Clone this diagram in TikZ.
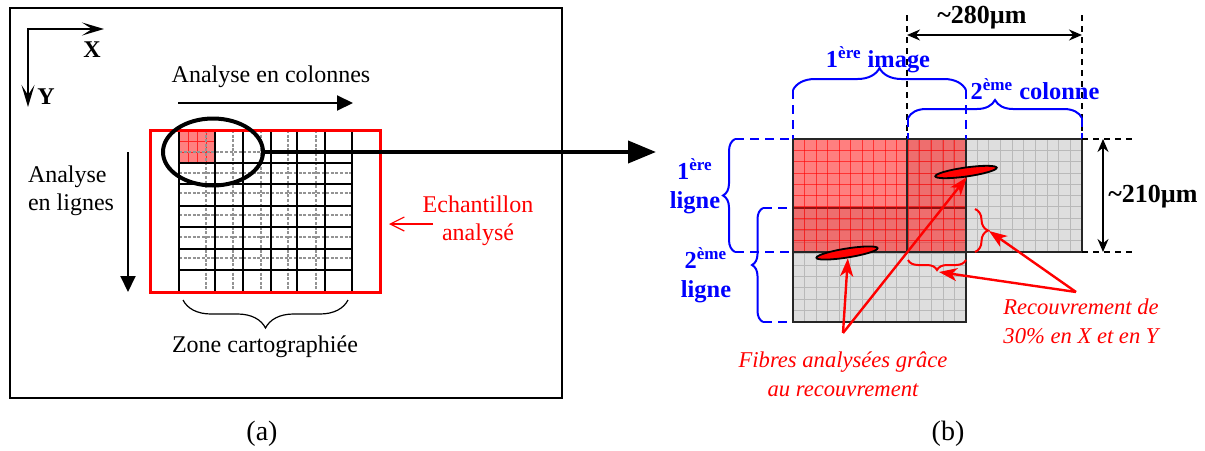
\documentclass[tikz,border=0pt]{standalone}
\usepackage{fontspec}
\setmainfont{Liberation Serif}
\usetikzlibrary{arrows.meta,decorations.pathreplacing,shapes.geometric}
\definecolor{tilegray}{RGB}{222,222,222}
\definecolor{tilegrid}{RGB}{185,185,185}
\begin{document}
\begin{tikzpicture}[x=0.5pt, y=-0.5pt,
  txt/.style={font=\fontsize{12}{14}\selectfont, inner sep=0pt, outer sep=0pt},
  redtxt/.style={txt, text=red},
  noteit/.style={font=\fontsize{11.3}{14.5}\selectfont\itshape, text=red, inner sep=0pt, align=center},
  bluetxt/.style={font=\fontsize{12.2}{14.5}\selectfont\bfseries, text=blue, inner sep=0pt, align=center},
  dimtxt/.style={font=\fontsize{13}{15}\selectfont\bfseries, inner sep=0pt},
  axistxt/.style={font=\fontsize{12}{14}\selectfont\bfseries, inner sep=0pt},
  captxt/.style={font=\fontsize{14}{16}\selectfont, inner sep=0pt},
  mapgrid/.style={black, line width=1pt},
  overlapline/.style={gray!85, line width=0.8pt, dash pattern=on 1.5pt off 0.8pt},
  scanarrow/.style={line width=1pt, -{Triangle[length=8pt,width=7.5pt]}},
  axisarrow/.style={line width=1pt, {Stealth[length=11pt,width=6.5pt,inset=5pt]}-{Stealth[length=11pt,width=6.5pt,inset=5pt]}},
  bluebrace/.style={blue, line width=1pt, decorate, decoration={brace, amplitude=#1}},
  redbrace/.style={red, line width=1pt, decorate, decoration={brace, amplitude=#1}},
  bluedash/.style={blue, line width=1pt, dash pattern=on 4.5pt off 3pt},
  dimdash/.style={black, line width=0.6pt, dash pattern=on 3pt off 2.5pt},
  dimarrow/.style={line width=0.7pt, {Stealth[length=6.5pt,width=5.5pt]}-{Stealth[length=6.5pt,width=5.5pt]}},
  notearrow/.style={red, line width=1.2pt, -{Stealth[length=9pt,width=6.5pt,inset=2.5pt]}},
  tileedge/.style={black!85, line width=0.8pt},
  fibre/.style={ellipse, draw=black, line width=0.9pt, fill=red, minimum width=31pt, minimum height=4.5pt, inner sep=0pt}
]
\useasboundingbox (0,0) rectangle (1205,450);
\fill[white] (0,0) rectangle (1205,450);

% ---------------- (a) sample map ----------------
\draw[line width=1pt] (10,8) rectangle (562,398);

% axes
\coordinate (xend) at (104,29);
\coordinate (orig) at (28,29);
\coordinate (yend) at (28,107);
\draw[axisarrow] (xend) -- (orig) -- (yend);
\node[axistxt] (xlbl) at (92,50) {X};
\node[axistxt] (ylbl) at (46,97) {Y};

% first image of the scan
\fill[red!50] (179,130) rectangle (215,163);
\foreach \x in {188,197,206} \draw[red!85, line width=0.4pt] (\x,130) -- (\x,163);
\foreach \y in {141,152} \draw[red!85, line width=0.4pt] (179,\y) -- (215,\y);

% overlap limits
\foreach \x in {206,233,261,288,316} \draw[overlapline] (\x,130) -- (\x,292);
\foreach \y in {152,173,193,215,237,258} \draw[overlapline] (179,\y) -- (352,\y);

% mapped zone grid
\foreach \x in {179,215,243,271,297,325,352} \draw[mapgrid] (\x,130) -- (\x,292);
\foreach \y in {130,163,184,206,227,249,270,292} \draw[mapgrid] (179,\y) -- (352,\y);

% analysed sample
\draw[red, line width=1.5pt] (150,130) rectangle (380,292);

% zoom ellipse and connector
\node[ellipse, draw, line width=2pt, minimum width=50pt, minimum height=33.5pt, inner sep=0pt] (zoomell) at (213,152) {};
\coordinate (zoomtip) at (656,152);
\draw[line width=2pt, -{Triangle[length=14pt,width=11pt]}] (zoomell.east) -- (zoomtip);

% scan directions
\node[txt] (colstxt) at (271,77) {Analyse en colonnes};
\coordinate (colA) at (178,103);
\coordinate (colB) at (353,103);
\draw[scanarrow] (colA) -- (colB);

\node[txt, align=left, anchor=west] (rowstxt) at (28,191) {Analyse\\en lignes};
\coordinate (rowA) at (128,152);
\coordinate (rowB) at (128,292);
\draw[scanarrow] (rowA) -- (rowB);

% sample label
\node[redtxt, align=center] (samptxt) at (478,221) {Echantillon\\analysé};
\coordinate (sampA) at (433,224);
\coordinate (sampB) at (389,224);
\draw[red, line width=0.6pt, -{Straight Barb[length=7pt,width=7pt]}] (sampA) -- (sampB);

% mapped zone brace
\draw[line width=0.6pt, decorate, decoration={brace, amplitude=14pt}] (348,300) -- (183,300);
\node[txt] (zonetxt) at (265,347) {Zone cartographiée};

\node[captxt] (capa) at (262,434) {(a)};

% ---------------- (b) image overlap ----------------
% second column image
\fill[tilegray] (907,139) rectangle (1082,252);
\foreach \i in {1,...,14} \draw[tilegrid, line width=0.4pt] ({907+\i*175/15},139) -- ++(0,113);
\foreach \j in {1,...,9} \draw[tilegrid, line width=0.4pt] (907,{139+\j*113/10}) -- ++(175,0);
% second row image
\fill[tilegray] (793,208) rectangle (966,322);
\foreach \i in {1,...,14} \draw[tilegrid, line width=0.4pt] ({793+\i*173/15},208) -- ++(0,114);
\foreach \j in {1,...,9} \draw[tilegrid, line width=0.4pt] (793,{208+\j*114/10}) -- ++(173,0);
\draw[tileedge] (907,139) rectangle (1082,252);
\draw[tileedge] (793,208) rectangle (966,322);
% first image
\fill[red, fill opacity=0.5] (793,139) rectangle (966,252);
\foreach \i in {1,...,14} \draw[red, draw opacity=0.6, line width=0.4pt] ({793+\i*173/15},139) -- ++(0,113);
\foreach \j in {1,...,9} \draw[red, draw opacity=0.6, line width=0.4pt] (793,{139+\j*113/10}) -- ++(173,0);
\draw[tileedge] (793,139) rectangle (966,252);
\draw[tileedge] (907,139) -- (907,252);

% fibres seen thanks to the overlap
\node[fibre, rotate=8] (fibA) at (966,172) {};
\node[fibre, rotate=9] (fibB) at (847,253) {};

% overlap braces
\draw[redbrace=6.5pt] (975,209) -- (975,252);
\draw[redbrace=5pt] (966,260) -- (908,260);
\coordinate (tipR) at (989,231);
\coordinate (tipB) at (939,272);

% notes
\node[noteit] (fibtxt) at (843,374) {Fibres analysées grâce\\au recouvrement};
\coordinate (fibapex) at (843,333);
\draw[notearrow] (fibapex) -- (fibB.south);
\draw[notearrow] (fibapex) -- (fibA.south);

\node[noteit] (rectxt) at (1081,321) {Recouvrement de\\30\% en X et en Y};
\coordinate (recapex) at (1076,292);
\draw[notearrow] (recapex) -- (tipR);
\draw[notearrow] (recapex) -- (tipB);

% image / column / row braces
\draw[bluedash] (793,90) -- (793,139);
\draw[bluedash] (966,90) -- (966,139);
\draw[bluebrace=11pt] (793,90) -- (966,90);
\node[bluetxt] (img1txt) at (878,60) {1\textsuperscript{ère} image};

\draw[dimdash] (907,15) -- (907,139);
\draw[dimdash] (1082,15) -- (1082,139);
\draw[bluedash] (908,118) -- (908,139);
\draw[bluedash] (1082,118) -- (1082,139);
\draw[bluebrace=9pt] (908,118) -- (1082,118);
\node[bluetxt] (col2txt) at (1035,89) {2\textsuperscript{ème} colonne};

\draw[bluedash] (735,139) -- (793,139);
\draw[bluedash] (735,252) -- (793,252);
\draw[bluebrace=6pt] (735,252) -- (735,139);
\node[bluetxt] (lig1txt) at (695,186) {1\textsuperscript{ère}\\ligne};

\draw[bluedash] (763,208) -- (793,208);
\draw[bluedash] (763,322) -- (793,322);
\draw[bluebrace=5.5pt] (763,322) -- (763,208);
\node[bluetxt] (lig2txt) at (706,275) {2\textsuperscript{ème}\\ligne};

% dimensions
\coordinate (wA) at (907,35);
\coordinate (wB) at (1082,35);
\draw[dimarrow] (wA) -- (wB);
\node[dimtxt] (wtxt) at (982,18) {\textasciitilde 280µm};

\draw[dimdash] (1082,139) -- (1132,139);
\draw[dimdash] (1082,252) -- (1132,252);
\coordinate (hA) at (1103,139);
\coordinate (hB) at (1103,252);
\draw[dimarrow] (hA) -- (hB);
\node[dimtxt] (htxt) at (1153,197) {\textasciitilde 210µm};

\node[captxt] (capb) at (948,434) {(b)};
\end{tikzpicture}
\end{document}
